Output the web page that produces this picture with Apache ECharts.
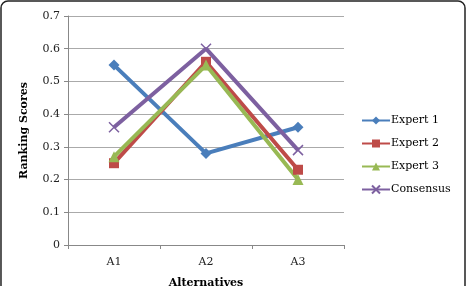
<!DOCTYPE html>
<html>
<head>
<meta charset="utf-8">
<script src="https://cdn.jsdelivr.net/npm/echarts@6/dist/echarts.min.js"></script>
<style>
  html, body { margin: 0; padding: 0; background: #fff; }
</style>
</head>
<body>
<div id="chart" style="width: 467px;height:286px"></div>
<script>
const categories = ['A1', 'A2', 'A3']
const expert1 = [0.55, 0.28, 0.36]
const expert2 = [0.25, 0.56, 0.23]
const expert3 = [0.27, 0.55, 0.20]
const consensus = [0.36, 0.60, 0.29]
const yTicks = [0, 0.7, 0.1]

const font = 'DejaVu Serif'
const crossPath = 'path://M0,0L10,10M10,0L0,10'

function lineSeries (name, data, color, symbol, size) {
  return {
    name: name,
    type: 'line',
    data: data,
    symbol: symbol,
    symbolSize: size,
    lineStyle: { width: 4, color: color },
    itemStyle: { color: color, borderColor: color, borderWidth: symbol === crossPath ? 1.5 : 0 }
  }
}

let mychart = echarts.init(document.getElementById('chart'))
mychart.setOption({
  animation: false,
  backgroundColor: '#fff',
  textStyle: { fontFamily: font },
  graphic: [{
    type: 'rect',
    shape: { x: 1, y: 1, width: 464, height: 295, r: 7 },
    style: { fill: 'none', stroke: '#222', lineWidth: 1.5 }
  }],
  grid: { left: 68, right: 123, top: 16, bottom: 41, outerBoundsMode: 'none', containLabel: false },
  legend: {
    orient: 'vertical',
    left: 356,
    top: 110,
    itemWidth: 28,
    itemHeight: 10,
    itemGap: 12,
    textStyle: { fontFamily: font, fontSize: 11, color: '#000', padding: [0, 0, 0, -4] },
    data: ['Expert 1', 'Expert 2', 'Expert 3', 'Consensus']
  },
  xAxis: {
    type: 'category',
    data: categories,
    name: 'Alternatives',
    nameLocation: 'middle',
    nameGap: 33,
    nameTextStyle: { fontFamily: font, fontWeight: 'bold', fontSize: 11, color: '#000' },
    axisLine: { lineStyle: { color: '#888' } },
    axisTick: { show: true, length: 4, lineStyle: { color: '#888' } },
    axisLabel: { fontFamily: font, fontSize: 11, color: '#222', margin: 12 }
  },
  yAxis: {
    type: 'value',
    min: yTicks[0],
    max: yTicks[1],
    interval: yTicks[2],
    name: 'Ranking Scores',
    nameLocation: 'middle',
    nameGap: 38,
    nameTextStyle: { fontFamily: font, fontWeight: 'bold', fontSize: 11, color: '#000' },
    axisLine: { show: true, lineStyle: { color: '#888' } },
    axisTick: { show: true, length: 4, lineStyle: { color: '#888' } },
    splitLine: { lineStyle: { color: '#aaa' } },
    axisLabel: { fontFamily: font, fontSize: 11, color: '#222', margin: 8 }
  },
  series: [
    lineSeries('Expert 1', expert1, '#4a7ebb', 'diamond', 11),
    lineSeries('Expert 2', expert2, '#be4b48', 'rect', 10),
    lineSeries('Expert 3', expert3, '#98b954', 'triangle', 11),
    lineSeries('Consensus', consensus, '#7d60a0', crossPath, 10)
  ]
}, true)
</script>
</body>
</html>
